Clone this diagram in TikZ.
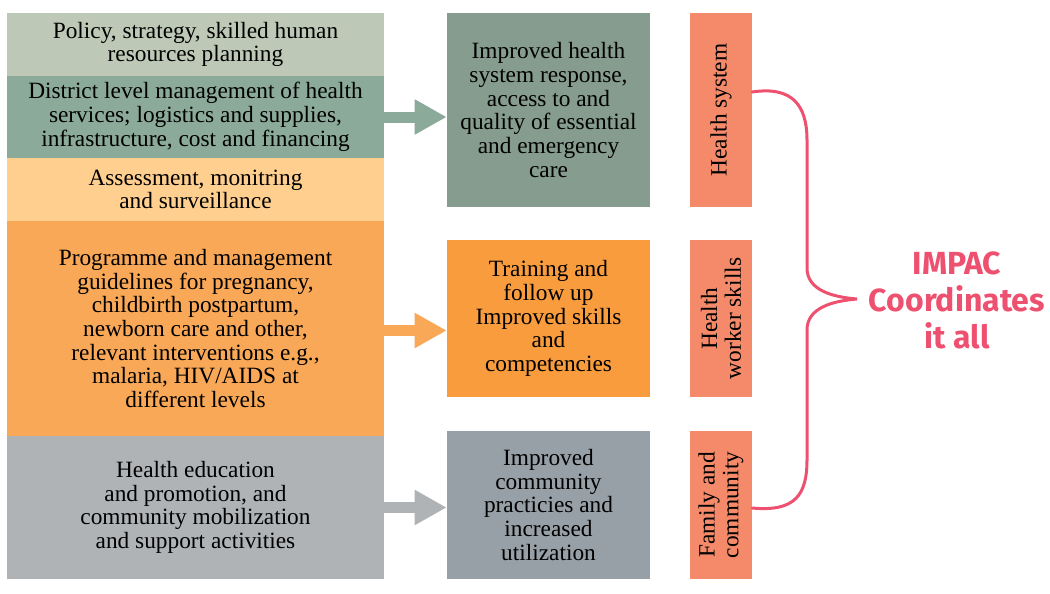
\documentclass[tikz,border=0pt]{standalone}
\usepackage{fontspec}
\setmainfont{Liberation Serif}
\newfontfamily\impacfont{Fira Sans}
\usetikzlibrary{arrows.meta}
\definecolor{rowA}{HTML}{BDC9B6}
\definecolor{rowB}{HTML}{8BAA9A}
\definecolor{rowC}{HTML}{FECF8E}
\definecolor{rowD}{HTML}{F9A857}
\definecolor{rowE}{HTML}{B0B3B6}
\definecolor{midA}{HTML}{869C8F}
\definecolor{midB}{HTML}{F99C3E}
\definecolor{midC}{HTML}{97A0A6}
\definecolor{salmon}{HTML}{F48A69}
\definecolor{impacred}{HTML}{EE506F}
\tikzset{
  txt/.style={inner sep=0pt, align=center, font=\fontsize{17.5}{17.8}\selectfont},
  leftbox/.style={txt, minimum width=282.75pt},
  midbox/.style={txt, minimum width=152.25pt},
  sidebox/.style={txt, fill=salmon, rotate=90, minimum height=46.5pt},
  bigarrow/.style={line width=8.25pt, -{Triangle[width=24.75pt,length=24pt]}},
  bracepath/.style={draw=impacred, line width=2.25pt, line cap=round}
}
\begin{document}
\begin{tikzpicture}[x=0.75pt,y=-0.75pt]
\useasboundingbox (0,0) rectangle (1050,593);
% left column
\node[leftbox, fill=rowA, minimum height=47.25pt] (r1) at (195.5,44.5) {Policy, strategy, skilled human\\resources planning};
\node[leftbox, fill=rowB, minimum height=61.5pt] (r2) at (195.5,117) {District level management of health\\services; logistics and supplies,\\infrastructure, cost and financing};
\node[leftbox, fill=rowC, minimum height=47.25pt] (r3) at (195.5,189.5) {Assessment, monitring\\and surveillance};
\node[leftbox, fill=rowD, minimum height=161.25pt] (r4) at (195.5,328.5) {Programme and management\\guidelines for pregnancy,\\childbirth postpartum,\\newborn care and other,\\relevant interventions e.g.,\\malaria, HIV/AIDS at\\different levels};
\node[leftbox, fill=rowE, minimum height=107.25pt] (r5) at (195.5,507.5) {Health education\\and promotion, and\\community mobilization\\and support activities};
% middle column
\node[midbox, fill=midA, minimum height=145.5pt] (m1) at (548.5,110) {Improved health\\system response,\\access to and\\quality of essential\\and emergency\\care};
\node[midbox, fill=midB, minimum height=117.75pt] (m2) at (548.5,318.5) {Training and\\follow up\\Improved skills\\and\\competencies};
\node[midbox, fill=midC, minimum height=111pt] (m3) at (548.5,505) {Improved\\community\\practicies and\\increased\\utilization};
% right column
\node[sidebox, minimum width=145.5pt] (s1) at (721,110) {Health system};
\node[sidebox, minimum width=117.75pt] (s2) at (721,318.5) {Health\\worker skills};
\node[sidebox, minimum width=111pt] (s3) at (721,505) {Family and\\community};
% arrows
\draw[bigarrow, draw=rowB, fill=rowB] (r2.east) -- (r2.east -| m1.west);
\draw[bigarrow, draw=rowD, fill=rowD] ([yshift=-1.5pt]r4.east) -- ([yshift=-1.5pt]r4.east -| m2.west);
\draw[bigarrow, draw=rowE, fill=rowE] (r5.east) -- (r5.east -| m3.west);
% brace
\coordinate (btop) at (s1.south |- 0,92);
\coordinate (bbot) at (s3.south |- 0,508);
\coordinate (tip) at (857,299);
\draw[bracepath] (btop) .. controls (792,86) and (807,105) .. (807,140)
  -- (807,268) .. controls (807,290) and (832,297) .. (tip)
  .. controls (832,301) and (807,308) .. (807,330)
  -- (807,460) .. controls (807,495) and (795,512) .. (bbot);
% IMPAC text
\node[text=impacred, align=center, inner sep=0pt, font=\impacfont\bfseries\fontsize{24}{27.75}\selectfont] (impac) at (957,300) {IMPAC\\Coordinates\\it all};
\end{tikzpicture}
\end{document}
